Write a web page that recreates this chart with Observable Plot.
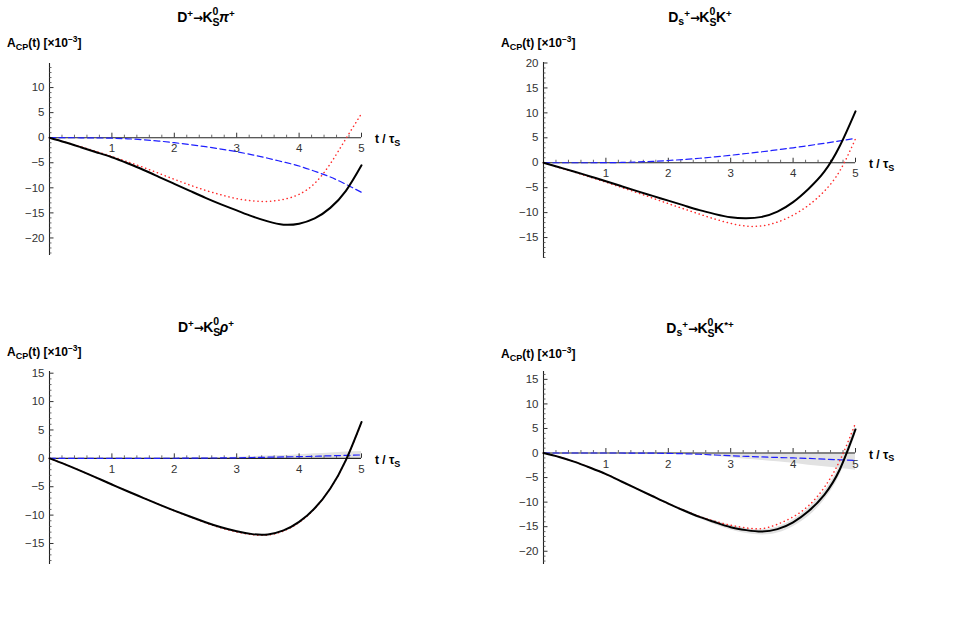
<!DOCTYPE html>
<html><head><meta charset="utf-8">
<script src="https://cdn.jsdelivr.net/npm/d3@7"></script>
<script src="https://cdn.jsdelivr.net/npm/@observablehq/plot@0.6"></script>
<style>
body{margin:0;background:#fff;}
#root{position:relative;width:953px;height:634px;overflow:hidden;font-family:"Liberation Sans",Arial,sans-serif;color:#000;}
#root svg{position:absolute;overflow:visible;}
.title{position:absolute;font-weight:bold;font-size:14px;line-height:16px;transform:translateX(-50%);white-space:nowrap;}
.ylab{position:absolute;font-weight:bold;font-size:12px;line-height:14px;white-space:nowrap;}
.xlab{position:absolute;font-weight:bold;font-size:12px;line-height:14px;white-space:nowrap;}
.sp{font-size:0.7em;position:relative;top:-0.55em;}
.sb{font-size:0.75em;position:relative;top:0.3em;}
.ar{font-family:"DejaVu Sans",sans-serif;font-size:0.85em;letter-spacing:-0.05em;}
.stk{position:relative;display:inline-block;width:0.62em;height:0;font-size:0.75em;}
.stk .u{position:absolute;left:0;top:-1.5em;line-height:1;}
.stk .d{position:absolute;left:0;top:-0.45em;line-height:1;}
</style></head>
<body><div id="root"></div>
<script>
// ---------- data ----------
const tGrid = [0, 0.25, 0.5, 0.75, 1, 1.25, 1.5, 1.75, 2, 2.25, 2.5, 2.75, 3, 3.25, 3.5, 3.75, 4, 4.25, 4.5, 4.75, 5];

// Panel 1: D+ -> KS pi+
const black1 = [0, -0.9, -1.9, -2.9, -3.9, -5.1, -6.4, -7.8, -9.2, -10.6, -12.0, -13.3, -14.5, -15.7, -16.7, -17.35, -17.15, -16.1, -14.0, -10.6, -5.5];
const red1   = [0, -0.9, -1.8, -2.75, -3.75, -4.8, -5.9, -7.1, -8.3, -9.45, -10.5, -11.4, -12.15, -12.6, -12.7, -12.3, -11.3, -9.1, -5.2, -0.2, 4.8];
const blue1  = [0, 0, -0.02, -0.05, -0.1, -0.22, -0.4, -0.67, -1.0, -1.38, -1.8, -2.28, -2.8, -3.42, -4.1, -4.85, -5.65, -6.7, -7.85, -9.3, -10.9];

// Panel 2: Ds+ -> KS K+
const black2 = [0, -0.9, -1.8, -2.75, -3.7, -4.7, -5.7, -6.65, -7.6, -8.55, -9.5, -10.3, -10.95, -11.15, -10.85, -9.8, -7.9, -5.2, -1.8, 3.4, 10.3];
const red2   = [0, -0.95, -1.9, -2.9, -3.9, -4.95, -6.0, -7.1, -8.2, -9.25, -10.3, -11.3, -12.15, -12.7, -12.65, -11.9, -10.5, -8.5, -5.7, -1.6, 4.8];
const blue2  = [0, 0, 0, 0, 0.02, 0.06, 0.15, 0.28, 0.45, 0.65, 0.9, 1.18, 1.5, 1.85, 2.2, 2.6, 3.0, 3.45, 3.9, 4.4, 4.9];

// Panel 3: D+ -> KS rho+
const black3 = [0, -1.05, -2.2, -3.4, -4.6, -5.8, -6.95, -8.1, -9.2, -10.25, -11.25, -12.15, -12.85, -13.35, -13.4, -12.7, -11.2, -8.8, -5.3, -0.3, 6.4];
const red3   = [0, -1.05, -2.2, -3.4, -4.6, -5.8, -6.95, -8.1, -9.25, -10.3, -11.35, -12.25, -12.95, -13.45, -13.5, -12.8, -11.3, -8.85, -5.3, -0.3, 6.3];
const blue3  = [0, 0, 0, 0, 0, 0, 0, 0.01, 0.02, 0.03, 0.05, 0.07, 0.1, 0.15, 0.2, 0.25, 0.3, 0.37, 0.45, 0.52, 0.6];
const blue3Lo = [0, 0, 0, 0, 0, 0, 0, 0, 0, 0, 0, 0, 0, 0, 0, 0, 0, 0, 0, 0, 0];
const blue3Hi = [0, 0, 0, 0, 0, 0, 0, 0.02, 0.05, 0.08, 0.1, 0.15, 0.2, 0.3, 0.4, 0.5, 0.65, 0.8, 0.95, 1.1, 1.2];

// Panel 4: Ds+ -> KS K*+
const black4 = [0, -0.8, -1.8, -3.0, -4.3, -5.8, -7.3, -8.8, -10.3, -11.7, -13.0, -14.1, -15.1, -15.7, -16.0, -15.5, -14.1, -11.8, -8.5, -3.3, 4.8];
const red4   = [0, -0.8, -1.8, -3.0, -4.3, -5.8, -7.3, -8.8, -10.3, -11.65, -12.9, -13.9, -14.7, -15.25, -15.4, -14.5, -13.0, -10.7, -7.0, -1.5, 6.1];
const blue4  = [0, 0, 0, 0, 0, 0, -0.01, -0.03, -0.08, -0.15, -0.25, -0.4, -0.55, -0.68, -0.8, -0.9, -1.0, -1.1, -1.25, -1.38, -1.5];
const blue4Lo = [0, 0, 0, 0, 0, 0, -0.01, -0.04, -0.12, -0.25, -0.4, -0.65, -0.95, -1.25, -1.5, -1.8, -2.1, -2.5, -2.8, -3.15, -3.5];
const blue4Hi = [0, 0, 0, 0, 0, 0, 0, -0.01, -0.03, -0.06, -0.1, -0.15, -0.15, -0.1, -0.05, 0, 0, 0.05, 0.1, 0.1, 0.1];
const black4Lo = [0, -0.8, -1.8, -3.0, -4.3, -5.85, -7.4, -8.95, -10.5, -12.0, -13.4, -14.6, -15.7, -16.4, -16.7, -16.3, -15.0, -12.9, -9.6, -4.5, 3.6];
const black4Hi = [0, -0.8, -1.8, -3.0, -4.3, -5.75, -7.2, -8.7, -10.15, -11.5, -12.8, -13.8, -14.7, -15.35, -15.6, -15.05, -13.6, -11.2, -7.8, -2.5, 5.6];

const xTickLabels = [1, 2, 3, 4, 5];
const yTicks1 = [-20, -15, -10, -5, 0, 5, 10];
const yTicks2 = [-15, -10, -5, 0, 5, 10, 15, 20];
const yTicks3 = [-15, -10, -5, 0, 5, 10, 15];
const yTicks4 = [-20, -15, -10, -5, 0, 5, 10, 15];

const stack = (a, b) => `<span class="stk"><span class="u">${a}</span><span class="d">${b}</span></span>`;
const arrow = `<span class="ar">→</span>`;
const titles = [
  `D<span class="sp">+</span>${arrow}K${stack("0","S")}<i>π</i><span class="sp">+</span>`,
  `D<span class="sb">s</span><span class="sp">+</span>${arrow}K${stack("0","S")}K<span class="sp">+</span>`,
  `D<span class="sp">+</span>${arrow}K${stack("0","S")}<i>ρ</i><span class="sp">+</span>`,
  `D<span class="sb">s</span><span class="sp">+</span>${arrow}K${stack("0","S")}K<span class="sp">*+</span>`
];
const yLabel = `A<span class="sb">CP</span>(t) [×10<span class="sp">−3</span>]`;
const xLabel = `t / τ<span class="sb">S</span>`;

// ---------- layout ----------
const panels = [
  {left: 0,   top: 0,   mt: 63, mb: 35, ydom: [-23.5, 14.8], yticks: yTicks1, black: black1, red: red1, blue: blue1, title: titles[0], titleTop: 9,  ylabTop: 36},
  {left: 494, top: 0,   mt: 62, mb: 32, ydom: [-19.2, 20.1], yticks: yTicks2, black: black2, red: red2, blue: blue2, title: titles[1], titleTop: 9,  ylabTop: 36},
  {left: 0,   top: 300, mt: 71, mb: 26, ydom: [-18.7, 15.3], yticks: yTicks3, black: black3, red: red3, blue: blue3, title: titles[2], titleTop: 319, ylabTop: 345,
   bands: [{lo: blue3Lo, hi: blue3Hi}]},
  {left: 494, top: 300, mt: 71, mb: 26, ydom: [-22.7, 16.6], yticks: yTicks4, black: black4, red: red4, blue: blue4, title: titles[3], titleTop: 320, ylabTop: 347,
   bands: [{lo: blue4Lo, hi: blue4Hi}, {lo: black4Lo, hi: black4Hi}]}
];

const root = document.getElementById("root");
const W = 460, H = 290;
const fmt = d => d < 0 ? "−" + (-d) : String(d);
const CURVE = "natural";

for (const p of panels) {
  const rows = tGrid.map((t, i) => ({t, black: p.black[i], red: p.red[i], blue: p.blue[i]}));
  const bandMarks = (p.bands || []).map(b =>
    Plot.areaY(tGrid.map((t, i) => ({t, lo: b.lo[i], hi: b.hi[i]})),
      {x: "t", y1: "lo", y2: "hi", fill: "#e2e2e2", curve: CURVE}));
  const xMinor = d3.range(1, 26).map(i => i / 5).filter(v => !xTickLabels.includes(v));
  const yMinor = d3.range(Math.ceil(p.ydom[0]), Math.floor(p.ydom[1]) + 1).filter(v => v % 5 !== 0);
  const yMajor = d3.range(Math.ceil(p.ydom[0] / 5) * 5, p.ydom[1] + 0.001, 5).filter(v => v !== 0);

  const plot = Plot.plot({
    width: W, height: H,
    marginLeft: 49, marginRight: 99, marginTop: p.mt, marginBottom: p.mb,
    x: {domain: [0, 5], axis: null},
    y: {domain: p.ydom, axis: null},
    style: {fontFamily: "Liberation Sans, Arial, sans-serif", background: "transparent", overflow: "visible"},
    marks: [
      ...bandMarks,
      // axes
      Plot.ruleY([0], {stroke: "#222", strokeWidth: 1.1}),
      Plot.ruleX([0], {stroke: "#222", strokeWidth: 1.1}),
      Plot.ruleX(xMinor, {x: d => d, y1: 0, y2: 0, insetBottom: 2.5, stroke: "#444", strokeWidth: 0.8}),
      Plot.ruleX(xTickLabels, {x: d => d, y1: 0, y2: 0, insetBottom: 4.5, stroke: "#333", strokeWidth: 1}),
      Plot.ruleY(yMinor, {y: d => d, x1: 0, x2: 0, insetRight: -2.5, stroke: "#444", strokeWidth: 0.8}),
      Plot.ruleY(yMajor, {y: d => d, x1: 0, x2: 0, insetRight: -4.5, stroke: "#333", strokeWidth: 1}),
      Plot.text(xTickLabels, {x: d => d, y: 0, text: d => String(d), dy: 11, fontSize: 11.5, fill: "#333"}),
      Plot.text(p.yticks, {x: 0, y: d => d, text: fmt, dx: -5, textAnchor: "end", fontSize: 11.5, fill: "#333"}),
      // curves
      Plot.line(rows, {x: "t", y: "blue", stroke: "#1f1fff", strokeWidth: 1.2, strokeDasharray: "6 3.5", curve: CURVE}),
      Plot.line(rows, {x: "t", y: "red", stroke: "#ff2a2a", strokeWidth: 1.5, strokeDasharray: "0.2 4", strokeLinecap: "round", curve: CURVE}),
      Plot.line(rows, {x: "t", y: "black", stroke: "#000", strokeWidth: 2, curve: CURVE})
    ]
  });
  plot.style.left = p.left + "px";
  plot.style.top = p.top + "px";
  root.appendChild(plot);

  const x5 = plot.scale("x").apply(5);
  const y0 = plot.scale("y").apply(0);

  const tt = document.createElement("div");
  tt.className = "title";
  tt.innerHTML = p.title;
  tt.style.left = (p.left + 206) + "px";
  tt.style.top = p.titleTop + "px";
  root.appendChild(tt);

  const yl = document.createElement("div");
  yl.className = "ylab";
  yl.innerHTML = yLabel;
  yl.style.left = (p.left + 7) + "px";
  yl.style.top = p.ylabTop + "px";
  root.appendChild(yl);

  const xl = document.createElement("div");
  xl.className = "xlab";
  xl.innerHTML = xLabel;
  xl.style.left = (p.left + x5 + 14) + "px";
  xl.style.top = (p.top + y0 - 5) + "px";
  root.appendChild(xl);
}
</script></body></html>
